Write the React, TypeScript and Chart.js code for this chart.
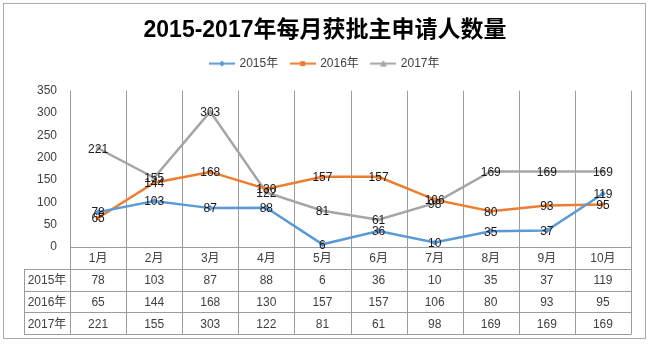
import React, { useEffect, useRef } from "react";
import { Chart, registerables } from "chart.js";

Chart.register(...registerables);

const titleText = "2015-2017年每月获批主申请人数量";
const categories = ["1月", "2月", "3月", "4月", "5月", "6月", "7月", "8月", "9月", "10月"];
const seriesNames = ["2015年", "2016年", "2017年"];
const data2015 = [78, 103, 87, 88, 6, 36, 10, 35, 37, 119];
const data2016 = [65, 144, 168, 130, 157, 157, 106, 80, 93, 95];
const data2017 = [221, 155, 303, 122, 81, 61, 98, 169, 169, 169];
const yMin = 0;
const yMax = 350;
const yStep = 50;

const seriesColors = ["#5B9BD5", "#ED7D31", "#A5A5A5"];
const seriesMarkers = ["rectRot", "rect", "triangle"];
const FONT = '"Liberation Sans", "Noto Sans CJK SC", sans-serif';
const GRID = "#9C9C9C";

function legendIcon(color: string, marker: string): HTMLCanvasElement {
  const c = document.createElement("canvas");
  c.width = 26;
  c.height = 9;
  const ctx = c.getContext("2d")!;
  ctx.strokeStyle = color;
  ctx.fillStyle = color;
  ctx.lineWidth = 2;
  ctx.beginPath();
  ctx.moveTo(0, 4.5);
  ctx.lineTo(26, 4.5);
  ctx.stroke();
  ctx.beginPath();
  if (marker === "rectRot") {
    ctx.moveTo(13, 1.5);
    ctx.lineTo(16, 4.5);
    ctx.lineTo(13, 7.5);
    ctx.lineTo(10, 4.5);
  } else if (marker === "rect") {
    ctx.rect(10.5, 2, 5, 5);
  } else {
    ctx.moveTo(13, 1);
    ctx.lineTo(16.5, 7.5);
    ctx.lineTo(9.5, 7.5);
  }
  ctx.closePath();
  ctx.fill();
  return c;
}

const frameAndTable = {
  id: "frameAndTable",
  beforeDraw(chart: any) {
    const ctx = chart.ctx;
    ctx.save();
    ctx.fillStyle = "#fff";
    ctx.fillRect(0, 0, chart.width, chart.height);
    ctx.strokeStyle = "#A9A9A9";
    ctx.lineWidth = 1;
    ctx.strokeRect(3.5, 3.5, 642, 335);
    ctx.restore();
  },
  beforeDatasetsDraw(chart: any) {
    const ctx = chart.ctx;
    const xs = chart.scales.x;
    const area = chart.chartArea;
    const n = categories.length;
    const monthH = 22;
    const rowH = 21.7;
    const tableTop = area.bottom + monthH;
    const tableBottom = tableTop + rowH * 3;
    const leftCol = 24;
    ctx.save();
    ctx.strokeStyle = GRID;
    ctx.lineWidth = 1;
    const bounds: number[] = [area.left];
    for (let i = 1; i < n; i++) {
      bounds.push((xs.getPixelForValue(i - 1) + xs.getPixelForValue(i)) / 2);
    }
    bounds.push(area.right);
    ctx.beginPath();
    bounds.forEach((b) => {
      const x = Math.round(b) + 0.5;
      ctx.moveTo(x, area.top);
      ctx.lineTo(x, tableBottom);
    });
    ctx.moveTo(leftCol + 0.5, tableTop);
    ctx.lineTo(leftCol + 0.5, tableBottom);
    const ax = Math.round(area.bottom) + 0.5;
    ctx.moveTo(area.left, ax);
    ctx.lineTo(area.right + 0.5, ax);
    for (let r = 0; r <= 3; r++) {
      const y = Math.round(tableTop + r * rowH) + 0.5;
      ctx.moveTo(leftCol, y);
      ctx.lineTo(area.right + 0.5, y);
    }
    ctx.stroke();

    ctx.fillStyle = "#404040";
    ctx.font = "12px " + FONT;
    ctx.textAlign = "center";
    ctx.textBaseline = "middle";
    categories.forEach((c, i) => {
      ctx.fillText(c, xs.getPixelForValue(i), area.bottom + monthH / 2 + 1);
    });
    const all = [data2015, data2016, data2017];
    all.forEach((arr, r) => {
      const cy = tableTop + rowH * r + rowH / 2 + 1;
      ctx.fillText(seriesNames[r], (leftCol + area.left) / 2, cy);
      arr.forEach((v, i) => {
        ctx.fillText(String(v), xs.getPixelForValue(i), cy);
      });
    });
    ctx.restore();
  },
  afterDatasetsDraw(chart: any) {
    const ctx = chart.ctx;
    ctx.save();
    ctx.fillStyle = "#1a1a1a";
    ctx.font = "12px " + FONT;
    ctx.textAlign = "center";
    ctx.textBaseline = "middle";
    chart.data.datasets.forEach((ds: any, di: number) => {
      const meta = chart.getDatasetMeta(di);
      meta.data.forEach((pt: any, i: number) => {
        ctx.fillText(String(ds.data[i]), pt.x, pt.y + 1);
      });
    });
    ctx.restore();
  },
};

export default function App() {
  const ref = useRef<HTMLCanvasElement | null>(null);
  useEffect(() => {
    if (!ref.current) return;
    const series = [data2015, data2016, data2017];
    const chart = new Chart(ref.current, {
      type: "line",
      data: {
        labels: categories,
        datasets: series.map((d, i) => ({
          label: seriesNames[i],
          data: d,
          borderColor: seriesColors[i],
          backgroundColor: seriesColors[i],
          borderWidth: 2.5,
          pointStyle: seriesMarkers[i] as any,
          pointRadius: 3,
          pointBorderWidth: 0,
          tension: 0,
        })),
      },
      options: {
        responsive: false,
        animation: false,
        layout: { padding: { left: 19, right: 19, top: 0, bottom: 98 } },
        scales: {
          x: {
            type: "category",
            display: false,
            offset: true,
          },
          spacer: {
            type: "category",
            position: "top",
            display: true,
            ticks: { display: false },
            grid: { display: false, drawTicks: false },
            border: { display: false },
            afterFit: (axis: any) => {
              axis.height = 11;
            },
          },
          y: {
            min: yMin,
            max: yMax,
            ticks: {
              stepSize: yStep,
              padding: 13,
              color: "#404040",
              font: { size: 12, family: FONT },
            },
            grid: { display: false, drawTicks: false },
            border: { display: false },
            afterFit: (axis: any) => {
              axis.width = 51;
            },
          },
        },
        plugins: {
          title: {
            display: true,
            text: titleText,
            color: "#000",
            font: { size: 23, weight: "bold", family: FONT },
            padding: { top: 17, bottom: 0 },
          },
          legend: {
            display: true,
            labels: {
              usePointStyle: true,
              pointStyleWidth: 23,
              padding: 13,
              color: "#404040",
              font: { size: 12, family: FONT },
              generateLabels: () =>
                seriesNames.map((name, i) => ({
                  text: name,
                  pointStyle: legendIcon(seriesColors[i], seriesMarkers[i]) as any,
                  fillStyle: seriesColors[i],
                  strokeStyle: seriesColors[i],
                  lineWidth: 0,
                  hidden: false,
                  datasetIndex: i,
                  fontColor: "#404040",
                })),
            },
          },
          tooltip: { enabled: false },
        },
      },
      plugins: [frameAndTable],
    });
    return () => chart.destroy();
  }, []);
  return (
    <div style={{ position: "absolute", left: 0, top: 0, width: 650, height: 345 }}>
      <canvas ref={ref} width={650} height={345} style={{ width: 650, height: 345 }} />
    </div>
  );
}
